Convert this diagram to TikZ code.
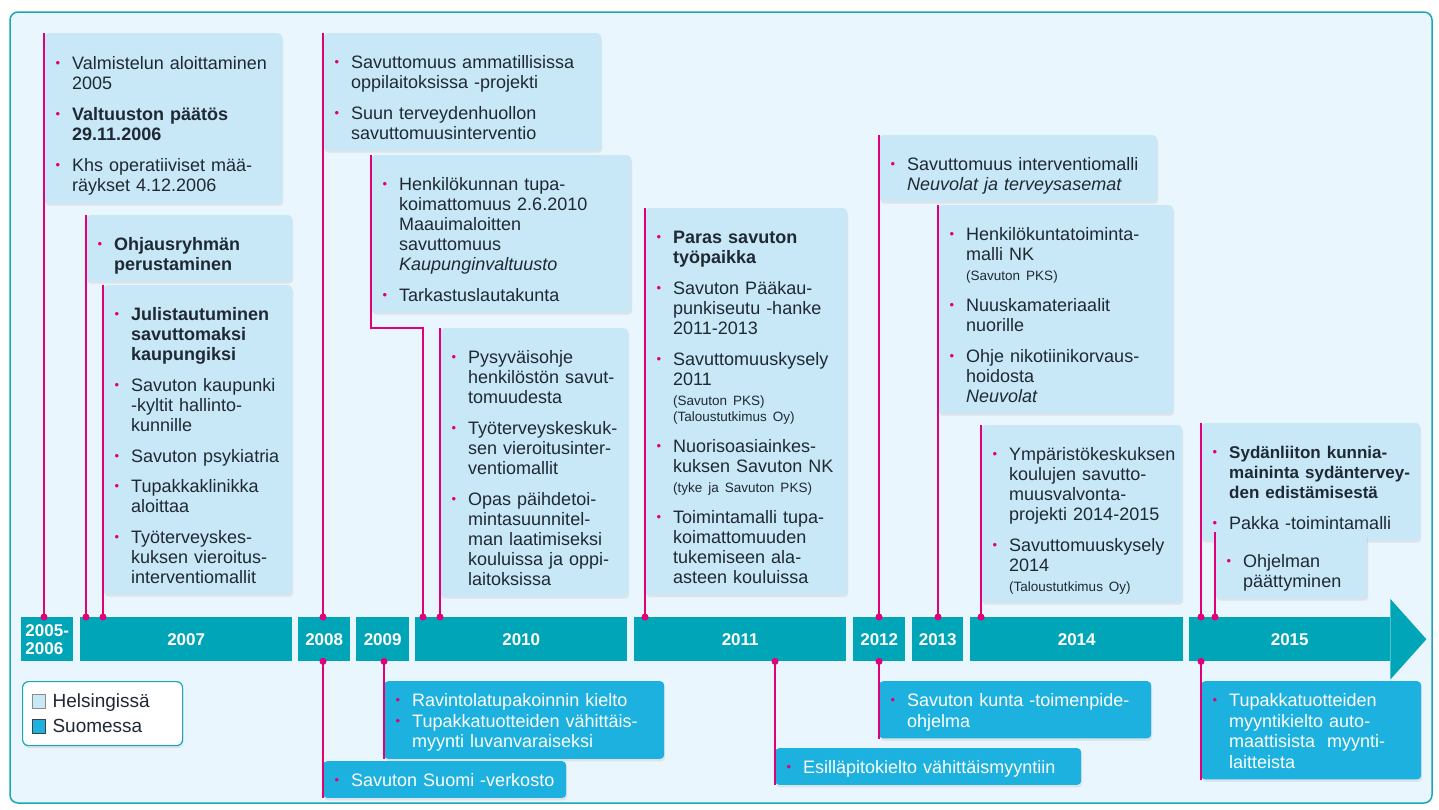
\documentclass[tikz,border=0pt]{standalone}
\usepackage{fontspec}
\setmainfont{Liberation Sans}
\usepackage{array}
\usetikzlibrary{positioning,shadows}

\definecolor{framebg}{HTML}{EAF6FD}
\definecolor{frameline}{HTML}{1AA8B8}
\definecolor{colHel}{HTML}{C8E8F8}
\definecolor{colFin}{HTML}{1CB1DE}
\definecolor{yearteal}{HTML}{00A6B7}
\definecolor{stempink}{HTML}{E2007A}
\definecolor{boxtext}{HTML}{1F2933}

% one bullet item, lines split by \\
\newlength{\itmgap}
\setlength{\itmgap}{10pt}
\newcommand{\blt}{\makebox[17pt][l]{\hspace{0.5pt}\textcolor{stempink}{\fontsize{13}{13}\selectfont\raisebox{1.8pt}{\textbullet}}}}
\newcommand{\itm}[2][]{\par\addvspace{\itmgap}\noindent
  \begin{tabular}[t]{@{}l@{}l@{}}\blt&\begin{tabular}[t]{@{}>{#1}l@{}}#2\end{tabular}\end{tabular}\par}
\newcommand{\note}[1]{{\fontsize{13.5}{16}\selectfont #1}}
\newcommand{\legsq}[2]{{\setlength{\fboxsep}{0pt}\setlength{\fboxrule}{0.8pt}\fcolorbox{#2}{#1}{\rule{0pt}{13pt}\rule{13pt}{0pt}}}}

\tikzset{
  helbox/.style={fill=colHel, text=boxtext, rounded corners=4pt, anchor=north west,
    inner xsep=11pt, inner ysep=5pt, align=left, font=\fontsize{18}{20}\selectfont,
    drop shadow={opacity=0.15, shadow xshift=1pt, shadow yshift=-2.5pt}},
  finbox/.style={helbox, fill=colFin, text=white,
    font={\fontsize{18}{20.5}\selectfont\setlength{\itmgap}{0pt}}},
  yearbox/.style={fill=yearteal, text=white, font=\bfseries\fontsize{17}{18}\selectfont,
    anchor=north west, minimum height=44pt, inner sep=0pt},
  stemline/.style={draw=stempink, line width=2pt},
}

\begin{document}
\begin{tikzpicture}[x=1pt,y=-1pt]
  \useasboundingbox (0,0) rectangle (1439,809);
  \draw[frameline, fill=framebg, line width=1.5pt, rounded corners=8pt] (10,12) rectangle (1432,803);

  % timeline bar
  \node[yearbox, minimum width=52pt, align=left] (y0506) at (21,617) {2005-\\2006};
  \node[yearbox, minimum width=212pt] (y07) at (80,617) {2007};
  \node[yearbox, minimum width=52pt] (y08) at (298,617) {2008};
  \node[yearbox, minimum width=53pt] (y09) at (356,617) {2009};
  \node[yearbox, minimum width=212pt] (y10) at (415,617) {2010};
  \node[yearbox, minimum width=212pt] (y11) at (634,617) {2011};
  \node[yearbox, minimum width=52pt] (y12) at (853,617) {2012};
  \node[yearbox, minimum width=51pt] (y13) at (912,617) {2013};
  \node[yearbox, minimum width=213pt] (y14) at (970,617) {2014};
  \node[yearbox, minimum width=201pt] (y15) at (1189,617) {2015};
  \fill[yearteal] (y15.north east) -- ++(0,-18) -- ([xshift=36pt]y15.east)
    -- ([yshift=-18pt]y15.south east) -- (y15.south east) -- cycle;

  % Helsinki
  \node[helbox, text width=216pt, minimum height=170pt] (bA) at (44,33) {%
    \itm{Valmistelun aloittaminen\\2005}
    \itm[\bfseries]{Valtuuston päätös\\29.11.2006}
    \itm{Khs operatiiviset mää-\\räykset 4.12.2006}};
  \node[helbox, text width=184pt, minimum height=58pt] (bB) at (86,215) {%
    \itm[\bfseries]{Ohjausryhmän\\perustaminen}};
  \node[helbox, text width=167pt, minimum height=308pt] (bC) at (103,285) {%
    \itm[\bfseries]{Julistautuminen\\savuttomaksi\\kaupungiksi}
    \itm{Savuton kaupunki\\-kyltit hallinto-\\kunnille}
    \itm{Savuton psykiatria}
    \itm{Tupakkaklinikka\\aloittaa}
    \itm{Työterveyskes-\\kuksen vieroitus-\\interventiomallit}};
  \node[helbox, text width=256pt, minimum height=112pt] (bD) at (323,33) {%
    \itm{Savuttomuus ammatillisissa\\oppilaitoksissa -projekti}
    \itm{Suun terveydenhuollon\\savuttomuusinterventio}};
  \node[helbox, text width=238pt, minimum height=154pt] (bE) at (371,155) {%
    \itm{Henkilökunnan tupa-\\koimattomuus 2.6.2010\\Maauimaloitten\\savuttomuus\\\textit{Kaupunginvaltuusto}}
    \itm{Tarkastuslautakunta}};
  \node[helbox, text width=166pt, minimum height=265pt] (bF) at (440,328) {%
    \itm{Pysyväisohje\\henkilöstön savut-\\tomuudesta}
    \itm{Työterveyskeskuk-\\sen vieroitusinter-\\ventiomallit}
    \itm{Opas päihdetoi-\\mintasuunnitel-\\man laatimiseksi\\kouluissa ja oppi-\\laitoksissa}};
  \node[helbox, text width=180pt, minimum height=385pt] (bG) at (645,208) {%
    \itm[\bfseries]{Paras savuton\\työpaikka}
    \itm{Savuton Pääkau-\\punkiseutu -hanke\\2011-2013}
    \itm{Savuttomuuskysely\\2011\\\note{(Savuton PKS)}\\[-3.5pt]\note{(Taloustutkimus Oy)}}
    \itm{Nuorisoasiainkes-\\kuksen Savuton NK\\\note{(tyke ja Savuton PKS)}}
    \itm{Toimintamalli tupa-\\koimattomuuden\\tukemiseen ala-\\asteen kouluissa}};
  \node[helbox, text width=256pt, minimum height=58pt] (bH) at (879,135) {%
    \itm{Savuttomuus interventiomalli\\\textit{Neuvolat ja terveysasemat}}};
  \node[helbox, text width=213pt, minimum height=207pt] (bI) at (938,205) {%
    \itm{Henkilökuntatoiminta-\\malli NK\\\note{(Savuton PKS)}}
    \itm{Nuuskamateriaalit\\nuorille}
    \itm{Ohje nikotiinikorvaus-\\hoidosta\\\textit{Neuvolat}}};
  \node[helbox, text width=179pt, minimum height=168pt] (bJ) at (981,425) {%
    \itm{Ympäristökeskuksen\\koulujen savutto-\\muusvalvonta-\\projekti 2014-2015}
    \itm{Savuttomuuskysely\\2014\\\note{(Taloustutkimus Oy)}}};
  \node[helbox, text width=197pt, minimum height=97pt] (bK) at (1201,423) {%
    \itm[\bfseries\fontsize{17}{20}\selectfont]{Sydänliiton kunnia-\\maininta sydäntervey-\\den edistämisestä}
    \itm{Pakka -toimintamalli}};
  \node[helbox, text width=130pt, minimum height=55pt] (bL) at (1215,532) {%
    \itm{Ohjelman\\päättyminen}};

  % Suomi
  \node[finbox, text width=221pt, minimum height=31pt] (bM) at (323,761) {%
    \itm{Savuton Suomi -verkosto}};
  \node[finbox, text width=258pt, minimum height=68pt] (bN) at (384,681) {%
    \itm{Ravintolatupakoinnin kielto}
    \itm{Tupakkatuotteiden vähittäis-\\myynti luvanvaraiseksi}};
  \node[finbox, text width=284pt, minimum height=29pt] (bO) at (775,748) {%
    \itm{Esilläpitokielto vähittäismyyntiin}};
  \node[finbox, text width=250pt, minimum height=52pt] (bP) at (879,681) {%
    \itm{Savuton kunta -toimenpide-\\ohjelma}};
  \node[finbox, text width=198pt, minimum height=95pt] (bQ) at (1201,681) {%
    \itm{Tupakkatuotteiden\\myyntikielto auto-\\maattisista \ myynti-\\laitteista}};

  % legend
  \node[fill=white, draw=frameline, line width=1.2pt, rounded corners=6pt, anchor=north west,
    text width=142pt, minimum height=64pt, inner xsep=9pt, align=left, text=boxtext,
    font=\fontsize{19}{25}\selectfont,
    drop shadow={opacity=0.15, shadow xshift=1pt, shadow yshift=-2.5pt}] (leg) at (22,681)
    {\legsq{colHel}{black!45} Helsingissä\\\legsq{colFin}{black!75} Suomessa};

  % stems to the bar
  \foreach \bx in {A,B,C,D,F,G,H,I,J,K,L}
    \coordinate (d\bx) at (b\bx.north west |- y07.north);
  \coordinate (dE) at (423,617);
  \foreach \bx in {M,N,O,P,Q}
    \coordinate (d\bx) at (b\bx.north west |- y07.south);
  \foreach \bx in {A,B,C,D,F,G,H,I,J,K,L}
    \draw[stemline] (b\bx.north west) -- (d\bx);
  \draw[stemline] (bE.north west) |- (dE |- bF.north) -- (dE);
  \foreach \bx in {M,N,O,P,Q}
    \draw[stemline] (d\bx) -- (b\bx.south west);
  \foreach \bx in {A,B,C,D,E,F,G,H,I,J,K,L,M,N,O,P,Q}
    \fill[stempink] (d\bx) circle (3.5pt);
\end{tikzpicture}
\end{document}
